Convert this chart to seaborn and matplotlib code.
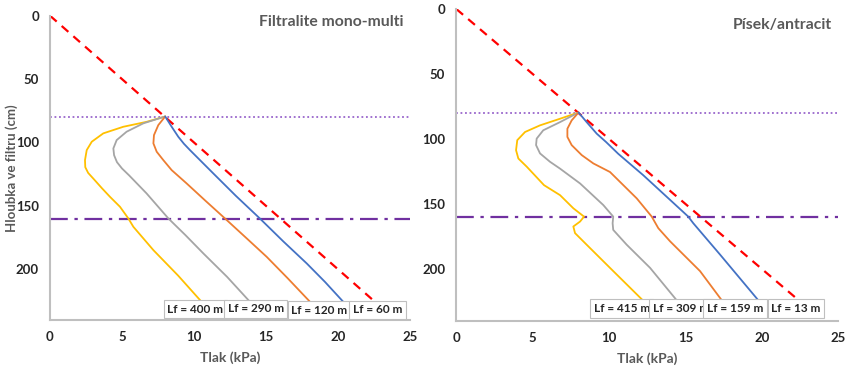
import numpy as np
import pandas as pd
import seaborn as sns
import matplotlib.pyplot as plt

# depth (cm) vs. pressure (kPa)
LEFT_TITLE = "Filtralite mono-multi"
RIGHT_TITLE = "Písek/antracit"

left_blue_x = [8, 8.45, 8.91, 9.3, 9.72, 11.34, 12.9, 14.58, 16.2, 17.83, 19.1, 20.37]
left_blue_y = [79.5, 87.6, 95.5, 101, 106, 124.4, 142, 160, 178, 195.4, 210, 225.7]
left_orange_x = [8, 7.52, 7.22, 7.18, 7.41, 7.87, 8.45, 9.49, 10.8, 12.15, 13.6, 15.05, 16.5, 18.06]
left_orange_y = [79.5, 86.3, 94.2, 100.7, 107.3, 113.9, 121.8, 132.3, 146, 159.9, 175, 190.2, 207, 225.7]
left_gray_x = [8, 6.48, 5.32, 4.63, 4.4, 4.45, 4.65, 5.0, 5.5, 6.71, 8.22, 9.4, 10.65, 12.3, 13.89]
left_gray_y = [79.5, 84.9, 91.5, 98.1, 104.7, 110, 115.5, 120.5, 126, 140.2, 159.9, 173, 187.5, 206, 225.7]
left_yellow_x = [8, 6.71, 5.09, 3.7, 2.9, 2.55, 2.43, 2.45, 2.65, 3.01, 3.6, 4.17, 4.86, 5.44, 5.79, 7.18,
                 8.9, 10.53]
left_yellow_y = [79.5, 83.7, 87.6, 92.8, 99.4, 106, 113.9, 119.5, 124, 128.5, 136, 142.9, 150.7, 159.9,
                 166.5, 184.9, 205, 225.7]

right_blue_x = [8, 8.53, 9.19, 9.8, 10.6, 12.24, 15.18, 15.51, 17.26, 19.76]
right_blue_y = [79.6, 87, 95.9, 102.3, 111.4, 127.9, 159.7, 164.8, 188.9, 224]
right_orange_x = [8, 7.55, 7.27, 7.27, 7.55, 8.21, 8.97, 10.06, 11.81, 12.79, 13.22, 13.99, 15.95, 17.37]
right_orange_y = [79.6, 85.7, 92.1, 98.4, 104.7, 112.4, 118.8, 125.4, 145.7, 159.7, 168.6, 178.7, 201.6, 224]
right_gray_x = [8, 6.79, 5.69, 5.26, 5.22, 5.48, 6.13, 6.79, 8.1, 9.62, 10.27, 10.23, 10.27, 11.15, 12.68,
                14.42]
right_gray_y = [79.6, 87, 93.3, 99.7, 104.7, 111.1, 117.5, 122.8, 134.2, 150.8, 159.7, 164.8, 169.9, 181.3,
                199.1, 224]
right_yellow_x = [8, 6.79, 5.48, 4.5, 3.99, 3.91, 4.06, 4.61, 5.74, 6.79, 7.66, 8.36, 8.1, 7.66, 7.77, 8.53,
                  10.27, 12.2]
right_yellow_y = [79.6, 84.4, 89.5, 94.6, 100.9, 108.6, 115, 121.3, 135.5, 143.2, 153.3, 159.7, 163.5, 167.3,
                  172.4, 181.3, 201.6, 224]

left_labels = ["Lf = 400 m", "Lf = 290 m", "Lf = 120 m", "Lf = 60 m"]
left_label_x = [10.1, 14.28, 18.7, 22.74]
left_label_y = [231.5, 231.2, 232.3, 232.0]
right_labels = ["Lf = 415 m", "Lf = 309 m", "Lf = 159 m", "Lf = 13 m"]
right_label_x = [10.83, 14.69, 18.25, 22.23]
right_label_y = [230.4, 230.4, 230.4, 230.4]

hydro_x = [0, 24]
hydro_y = [0, 240]
right_hydro_x = [0, 22.3]
right_hydro_y = [0, 223]
top_layer = 80
mid_layer = 160

palette = {"yellow": "#FFC000", "gray": "#A5A5A5", "orange": "#ED7D31", "blue": "#4472C4"}
TXT = "#595959"

sns.set_style("white")
plt.rcParams['font.family'] = ['Lato', 'DejaVu Sans']
plt.rcParams['font.weight'] = 'bold'


def make_df(series):
    rows = []
    for name, xs, ys in series:
        for i, (x, y) in enumerate(zip(xs, ys)):
            rows.append({"curve": name, "order": i, "Tlak": x, "Hloubka": y})
    return pd.DataFrame(rows)


def draw_panel(ax, df, hx, hy, title, title_y, labels, lx, ly, ylabel):
    ax.axhline(top_layer, color="#9966CC", lw=1.3, ls=(0, (1, 1.5)), zorder=1)
    ax.axhline(mid_layer, color="#7030A0", lw=1.6, ls=(0, (8, 3, 1.5, 3)), zorder=1)
    ax.plot(hx, hy, color="#FF0000", lw=1.6, ls=(0, (4, 3)), zorder=2)
    sns.lineplot(data=df, x="Tlak", y="Hloubka", hue="curve", palette=palette,
                 sort=False, estimator=None, units="curve", lw=1.3, legend=False, ax=ax, zorder=3)
    for t, x, y in zip(labels, lx, ly):
        ax.text(x, y, t, ha="center", va="center", fontsize=8.5, color="#262626", zorder=5,
                bbox=dict(boxstyle="square,pad=0.3", fc="white", ec="#BFBFBF", lw=0.8))
    ax.set_xlim(0, 25)
    ax.set_ylim(240, 0)
    ax.set_xticks([0, 5, 10, 15, 20, 25])
    ax.set_yticks([0, 50, 100, 150, 200])
    ax.tick_params(length=0, labelsize=9.5, pad=8, labelcolor="#262626")
    for lab in ax.get_xticklabels() + ax.get_yticklabels():
        lab.set_fontweight("bold")
    ax.set_xlabel("Tlak (kPa)", fontsize=10, color=TXT, fontweight="bold", labelpad=6)
    ax.set_ylabel(ylabel, fontsize=9.5, color=TXT, fontweight="bold")
    ax.yaxis.set_label_coords(-0.09, 0.5)
    for s in ["top", "right"]:
        ax.spines[s].set_visible(False)
    for s in ["left", "bottom"]:
        ax.spines[s].set_color("#BFBFBF")
        ax.spines[s].set_linewidth(1.5)
    ax.text(0.983, title_y, title, transform=ax.transAxes, ha="right", va="center",
            fontsize=11.3, color=TXT, fontweight="bold")


left_df = make_df([("yellow", left_yellow_x, left_yellow_y), ("gray", left_gray_x, left_gray_y),
                   ("orange", left_orange_x, left_orange_y), ("blue", left_blue_x, left_blue_y)])
right_df = make_df([("yellow", right_yellow_x, right_yellow_y), ("gray", right_gray_x, right_gray_y),
                    ("orange", right_orange_x, right_orange_y), ("blue", right_blue_x, right_blue_y)])

fig = plt.figure(figsize=(8.49, 3.67), dpi=100)
ax1 = fig.add_axes([50 / 849, 1 - 320 / 367, 360 / 849, 304.3 / 367])
ax2 = fig.add_axes([456.3 / 849, 1 - 321 / 367, 382 / 849, 312 / 367])

draw_panel(ax1, left_df, hydro_x, hydro_y, LEFT_TITLE, 0.978, left_labels, left_label_x, left_label_y,
           "Hloubka ve filtru (cm)")
draw_panel(ax2, right_df, right_hydro_x, right_hydro_y, RIGHT_TITLE, 0.95, right_labels, right_label_x,
           right_label_y, "")

fig.savefig("out.png", dpi=100)
